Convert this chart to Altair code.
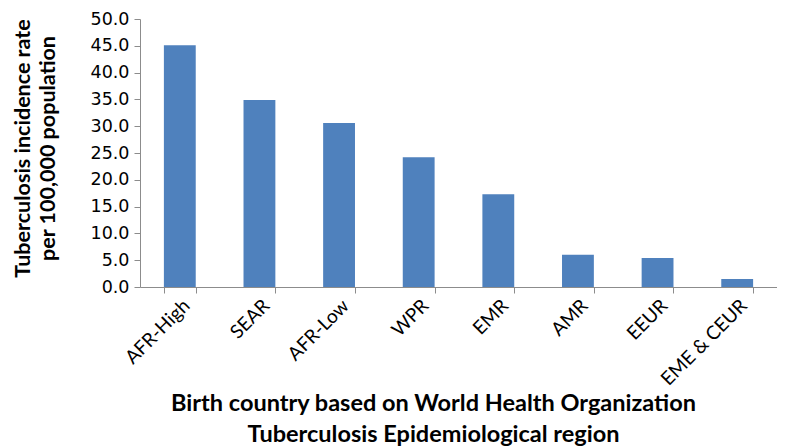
import altair as alt
import pandas as pd

regions = ["AFR-High", "SEAR", "AFR-Low", "WPR", "EMR", "AMR", "EEUR", "EME & CEUR"]
rates = [45.1, 34.9, 30.6, 24.2, 17.3, 6.0, 5.4, 1.5]
y_ticks = [0, 5, 10, 15, 20, 25, 30, 35, 40, 45, 50]

df = pd.DataFrame({"region": regions, "rate": rates})

chart = alt.Chart(df).mark_bar(color="#4F81BD").encode(
    x=alt.X(
        "region:N",
        sort=regions,
        scale=alt.Scale(paddingInner=0.6, paddingOuter=0.3),
        axis=alt.Axis(
            title=["Birth country based on World Health Organization",
                   "Tuberculosis Epidemiological region"],
            titleFont="Lato", titleFontSize=23.5, titleFontWeight="bold",
            titleColor="black", titleLineHeight=31,
            titleBaseline="alphabetic", titleAnchor="start", titleAlign="center",
            titleX=293, titleY=123,
            labelAngle=-45, labelFont="Lato", labelFontSize=19, labelColor="black",
            labelPadding=3, tickBand="extent", tickSize=6,
            domainColor="#8c8c8c", tickColor="#8c8c8c", grid=False,
        ),
    ),
    y=alt.Y(
        "rate:Q",
        scale=alt.Scale(domain=[0, 50], nice=False),
        axis=alt.Axis(
            title=["Tuberculosis incidence rate", "per 100,000 population"],
            titleFont="Lato", titleFontSize=21.5, titleFontWeight="bold",
            titleColor="black", titleLineHeight=25, titleAngle=-90,
            titleBaseline="alphabetic", titleAlign="center", titleAnchor="start",
            titleX=-111, titleY=129,
            values=y_ticks, format=".1f",
            labelFont="DejaVu Sans", labelFontSize=17.5, labelColor="black",
            labelPadding=5, tickSize=6,
            domainColor="#8c8c8c", tickColor="#8c8c8c", grid=False,
        ),
    ),
).properties(
    width=637,
    height=268,
    autosize=alt.AutoSizeParams(type="none"),
    padding={"left": 132, "top": 11, "right": 0, "bottom": 160},
).configure_view(stroke=None)

chart.save("out.html", embed_options={"renderer": "svg", "actions": False})
